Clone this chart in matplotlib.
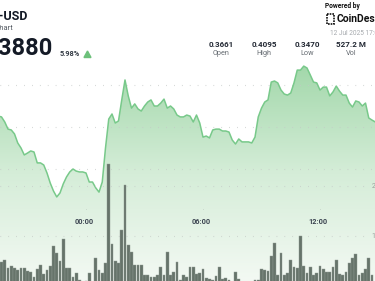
import numpy as np
import matplotlib
matplotlib.use('Agg')
import matplotlib.pyplot as plt
from matplotlib.patches import Polygon

plt.rcParams['font.family'] = ['Roboto', 'DejaVu Sans']

# price every 10 min, first point at 19:30 the day before (hours from 00:00)
price = [0.3852, 0.3848, 0.3824, 0.3790, 0.3786, 0.3767, 0.3724, 0.3700, 0.3667, 0.3676,
         0.3686, 0.3681, 0.3629, 0.3629, 0.3619, 0.3581, 0.3533, 0.3495, 0.3467, 0.3486,
         0.3529, 0.3562, 0.3586, 0.3600, 0.3590, 0.3586, 0.3586, 0.3581, 0.3538, 0.3538,
         0.3510, 0.3490, 0.3538, 0.3700, 0.3838, 0.3862, 0.3819, 0.3829, 0.3929, 0.4024,
         0.3948, 0.3890, 0.3910, 0.3886, 0.3876, 0.3900, 0.3919, 0.3929, 0.3900, 0.3900,
         0.3914, 0.3933, 0.3890, 0.3900, 0.3886, 0.3857, 0.3848, 0.3848, 0.3857, 0.3852,
         0.3824, 0.3857, 0.3819, 0.3752, 0.3757, 0.3748, 0.3786, 0.3790, 0.3790, 0.3781,
         0.3781, 0.3776, 0.3738, 0.3719, 0.3743, 0.3729, 0.3729, 0.3729, 0.3724, 0.3752,
         0.3848, 0.3890, 0.3919, 0.3929, 0.4014, 0.4019, 0.4010, 0.3976, 0.3957, 0.3952,
         0.3962, 0.4010, 0.4071, 0.4071, 0.4090, 0.4081, 0.4048, 0.4014, 0.4010, 0.3976,
         0.3990, 0.3990, 0.3948, 0.3967, 0.3995, 0.3971, 0.3952, 0.3952, 0.3914, 0.3895,
         0.3924, 0.3919, 0.3900, 0.3914, 0.3843, 0.3833, 0.3824]
price_start = -4.5

# volume in millions, 10 min bars starting 19:40
volume = [4.8, 5.2, 3.6, 4.0, 3.6, 3.2, 3.6, 3.6, 3.0, 2.8,
          1.8, 3.4, 4.2, 2.4, 3.2, 4.0, 8.0, 6.6, 5.0, 9.4,
          3.6, 3.6, 1.8, 2.6, 1.2, 0.8, 1.0, 2.6, 0.8, 5.6,
          3.2, 2.6, 4.6, 24.4, 8.4, 5.0, 4.6, 11.2, 20.2, 8.2,
          6.8, 4.2, 4.2, 4.2, 2.2, 2.2, 1.8, 1.8, 2.2, 3.8,
          2.2, 6.8, 2.2, 2.8, 4.8, 1.2, 2.2, 1.8, 3.8, 3.8,
          2.4, 2.6, 3.4, 1.6, 1.4, 1.2, 2.0, 3.8, 1.4, 1.6,
          1.2, 0.8, 2.8, 1.4, 0.6, 0.6, 0.6, 0.6, 1.2, 1.2,
          3.4, 3.2, 3.0, 6.0, 8.6, 2.2, 6.6, 2.2, 2.6, 5.2,
          3.8, 3.6, 10.0, 4.0, 2.6, 3.8, 2.2, 2.6, 4.0, 3.4,
          2.8, 2.8, 3.8, 5.2, 2.4, 2.2, 2.8, 4.6, 5.6, 6.4,
          2.2, 2.6, 3.4, 5.6, 2.2]
vol_start = -4.5 + 1 / 6

tick_hours = [0, 6, 12]
tick_labels = ['00:00', '06:00', '12:00']
price_grid = [0.36, 0.38, 0.40]
vol_grid = [10, 20]
vol_grid_labels = ['10M', '20M']

stat_values = ['0.3661', '0.4095', '0.3470', '527.2 M']
stat_names = ['Open', 'High', 'Low', 'Vol']

W, H = 375, 281
fig = plt.figure(figsize=(W / 100, H / 100), dpi=100)
fig.patch.set_facecolor('white')

ax = fig.add_axes([0, 0, 1, 1])
ax2 = ax.twinx()
xlim = (-86 / 19.5, (W - 86) / 19.5)
plim = (0.40 - 196 / 2100, 0.40 + 85 / 2100)
vlim = (1.0, 57.2)

t = price_start + np.arange(len(price)) / 6
p = np.array(price)

# gradient fill under the price line
verts = [(t[0], plim[0])] + list(zip(t, p)) + [(t[-1], plim[0])]
poly = Polygon(verts, closed=True, facecolor='none', edgecolor='none')
ax.add_patch(poly)
grad = np.linspace(0, 1, 256).reshape(-1, 1)
cmap = matplotlib.colors.LinearSegmentedColormap.from_list(
    'g', ['#f3f9f3', '#d5edd8', '#a3d8ab'])
img = ax.imshow(grad, extent=[xlim[0], xlim[1], plim[0], max(price)],
                aspect='auto', cmap=cmap, origin='lower', zorder=1)
img.set_clip_path(poly)
ax.plot(t, p, color='#78c98a', lw=1.1, zorder=3)

for g in price_grid:
    ax.axhline(g, color='#c4c8c6', lw=0.8, ls=(0, (0.6, 6.5)), zorder=2)

tb = vol_start + np.arange(len(volume)) / 6
ax2.bar(tb, volume, width=0.135, color='#66746a', edgecolor='#8f9a92',
        linewidth=0.3, zorder=4)
for g in vol_grid:
    ax2.axhline(g, xmax=0.985, color='#c4c8c6', lw=0.8, ls=(0, (0.6, 6.5)), zorder=2)

ax.set_xlim(xlim)
ax.set_ylim(plim)
ax2.set_ylim(vlim)
for a in (ax, ax2):
    a.axis('off')
ax.set_zorder(1)
ax2.set_zorder(2)
ax2.patch.set_visible(False)

def fx(x):
    return x / W

def fy(y):
    return 1 - y / H

# time labels
for h, lab in zip(tick_hours, tick_labels):
    x = 86 + 19.5 * h
    fig.text(fx(x), fy(211), '.', color='#9aa09c', fontsize=4, ha='center', va='bottom')
    fig.text(fx(x - 2), fy(222), lab, color='#3b4350', fontsize=5.3, fontweight='bold',
             ha='center', va='center')

for g, lab in zip(vol_grid, vol_grid_labels):
    y = 286 - g * 5
    fig.text(fx(371.5), fy(y), lab, color='#9a9f9c', fontsize=5, ha='left', va='center')

# header
fig.text(fx(28), fy(16.5), 'XLM-USD', fontsize=9, fontweight='bold', color='#141a26',
         ha='right', va='center')
fig.text(fx(13), fy(27.5), 'Price Chart', fontsize=5.5, color='#555b63',
         ha='right', va='center')
fig.text(fx(52.5), fy(48), '$0.3880', fontsize=17, fontweight='bold', color='#141a26',
         ha='right', va='center')
fig.text(fx(60), fy(54.5), '5.98%', fontsize=5.3, fontweight='bold', color='#333a44',
         ha='left', va='center')
tri = Polygon([(fx(84), fy(57.5)), (fx(91), fy(57.5)), (fx(87.5), fy(51))],
              closed=True, color='#6cc07a', transform=fig.transFigure)
fig.patches.append(tri)

xs = [221, 264, 307, 351]
for x, v, n in zip(xs, stat_values, stat_names):
    fig.text(fx(x), fy(44.5), v, fontsize=5.8, fontweight='bold', color='#222833',
             ha='center', va='center')
    fig.text(fx(x), fy(53.5), n, fontsize=5.2, color='#666c72', ha='center', va='center')

fig.text(fx(325), fy(5.5), 'Powered by', fontsize=4.8, fontweight='bold', color='#111',
         ha='left', va='center')
logo = Polygon([(fx(327), fy(14)), (fx(334), fy(14)), (fx(334), fy(24)), (fx(327), fy(24))],
               closed=True, facecolor='none', edgecolor='#111', lw=1.2, ls=(0, (1, 0.6)),
               transform=fig.transFigure)
fig.patches.append(logo)
fig.text(fx(337), fy(19), 'CoinDesk', fontsize=7.5, fontweight='bold', color='#111',
         ha='left', va='center')
fig.text(fx(330), fy(33.5), '12 Jul 2025 17:00 UTC', fontsize=4.7, color='#a5a9ad',
         ha='left', va='center')

fig.savefig('out.png', dpi=100, facecolor='white')
